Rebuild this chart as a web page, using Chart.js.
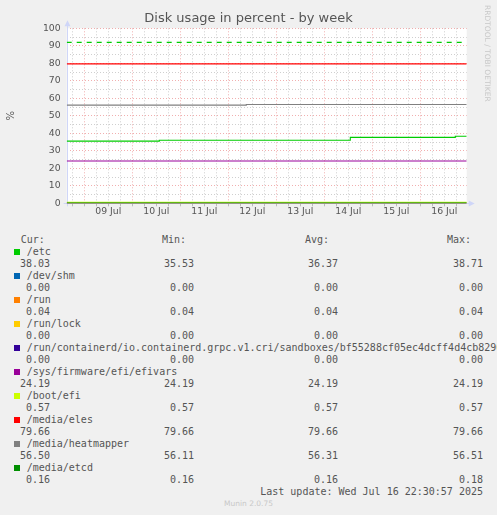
<!DOCTYPE html>
<html>
<head>
<meta charset="utf-8">
<script src="https://cdn.jsdelivr.net/npm/chart.js@4/dist/chart.umd.min.js"></script>
<style>
  html, body { margin:0; padding:0; background:#f0f0f0; }
  body { width:497px; height:515px; position:relative; overflow:hidden; }
  #wrap { position:absolute; left:0; top:0; width:497px; height:230px; }
  .t { position:absolute; font:10px "DejaVu Sans Mono", monospace; color:#555; white-space:pre; line-height:12px; height:12px; }
  .r { text-align:right; }
  .sq { position:absolute; width:6px; height:6px; }
  #rrd { position:absolute; left:483px; top:5px; writing-mode:vertical-rl; font:7.5px "DejaVu Sans", sans-serif; color:#c8c8c8; white-space:nowrap; }
  #munin { position:absolute; left:0; width:497px; top:499px; text-align:center; font:7.5px "DejaVu Sans", sans-serif; color:#c8c8c8; }
</style>
</head>
<body>
<div id="wrap"><canvas id="c" width="497" height="230"></canvas></div>
<div id="legend"></div>
<div id="rrd">RRDTOOL / TOBI OETIKER</div>
<div id="munin">Munin 2.0.75</div>
<script>
// ---- data (x in hours relative to 09 Jul 00:00) ----
const xMin = -8.8;
const xMax = 191.2;
const dayLabels = ['09 Jul','10 Jul','11 Jul','12 Jul','13 Jul','14 Jul','15 Jul','16 Jul'];
const yTickValues = [0,5,10,15,20,25,30,35,40,45,50,55,60,65,70,75,80,85,90,95,100];
const xTickValues = [-6,0,6,12,18,24,30,36,42,48,54,60,66,72,78,84,90,96,102,108,114,120,126,132,138,144,150,156,162,168,174,180,186];

const names = ['/etc','/dev/shm','/run','/run/lock','/run/containerd/io.containerd.grpc.v1.cri/sandboxes/bf55288cf05ec4dcff4d4cb8296','/sys/firmware/efi/efivars','/boot/efi','/media/eles','/media/heatmapper','/media/etcd'];
const colors = ['#00CC00','#0066B3','#FF8000','#FFCC00','#330099','#990099','#CCFF00','#FF0000','#808080','#008F00'];
const curVals = ['38.03','0.00','0.04','0.00','0.00','24.19','0.57','79.66','56.50','0.16'];
const minVals = ['35.53','0.00','0.04','0.00','0.00','24.19','0.57','79.66','56.11','0.16'];
const avgVals = ['36.37','0.00','0.04','0.00','0.00','24.19','0.57','79.66','56.31','0.16'];
const maxVals = ['38.71','0.00','0.04','0.00','0.00','24.19','0.57','79.66','56.51','0.18'];

const etcTimes = [-8.8, 37.5, 133, 185.5, 191.2];
const etcValues = [35.53, 36.03, 37.7, 38.3, 38.3];
const shmTimes = [-8.8, 191.2];   const shmValues = [0, 0];
const runTimes = [-8.8, 191.2];   const runValues = [0.04, 0.04];
const lockTimes = [-8.8, 191.2];  const lockValues = [0, 0];
const ctrTimes = [-8.8, 191.2];   const ctrValues = [0, 0];
const efivTimes = [-8.8, 191.2];  const efivValues = [24.19, 24.19];
const bootTimes = [-8.8, 191.2];  const bootValues = [0.57, 0.57];
const elesTimes = [-8.8, 191.2];  const elesValues = [79.66, 79.66];
const heatTimes = [-8.8, 81, 191.2]; const heatValues = [56.11, 56.5, 56.5];
const etcdTimes = [-8.8, 185, 191.2]; const etcdValues = [0.16, 0.17, 0.17];
const warnTimes = [-8.8, 191.2];  const warnValues = [92, 92];

const seriesTimes = [etcTimes, shmTimes, runTimes, lockTimes, ctrTimes, efivTimes, bootTimes, elesTimes, heatTimes, etcdTimes];
const seriesValues = [etcValues, shmValues, runValues, lockValues, ctrValues, efivValues, bootValues, elesValues, heatValues, etcdValues];

function pts(ts, vs){ return ts.map((t,i)=>({x:t, y:vs[i]})); }

const datasets = names.map((n,i)=>({
  label:n, data:pts(seriesTimes[i], seriesValues[i]),
  borderColor:colors[i], backgroundColor:colors[i], borderWidth:1.1,
  pointRadius:0, stepped:true, fill:false, order:-i
}));
datasets.push({label:'warning', data:pts(warnTimes, warnValues), borderColor:'#00CC00',
  borderWidth:1.2, borderDash:[5,5], pointRadius:0, fill:false, order:-20});

const AXIS = '#CFD6F8';
const frame = {
  id:'frame',
  beforeDraw(chart){
    const {ctx, chartArea:a} = chart;
    ctx.save(); ctx.fillStyle='#ffffff';
    ctx.fillRect(a.left, a.top, a.right-a.left, a.bottom-a.top);
    ctx.restore();
  },
  beforeDatasetsDraw(chart){
    const {ctx, chartArea:a} = chart;
    ctx.save();
    ctx.strokeStyle = AXIS; ctx.fillStyle = AXIS; ctx.lineWidth = 1;
    const xl = Math.round(a.left)+0.5, yb = Math.round(a.bottom)+0.5;
    ctx.beginPath(); ctx.moveTo(xl, a.bottom+3); ctx.lineTo(xl, a.top-3); ctx.stroke();
    ctx.beginPath(); ctx.moveTo(a.left-3, yb); ctx.lineTo(a.right+3, yb); ctx.stroke();
    ctx.beginPath(); ctx.moveTo(xl-3, a.top-2); ctx.lineTo(xl+3, a.top-2); ctx.lineTo(xl, a.top-8); ctx.closePath(); ctx.fill();
    ctx.beginPath(); ctx.moveTo(a.right+2, yb-3); ctx.lineTo(a.right+2, yb+3); ctx.lineTo(a.right+8, yb); ctx.closePath(); ctx.fill();
    ctx.restore();
  }
};

const MAJ = 'rgba(230,110,110,0.55)';
const MIN = 'rgba(160,160,160,0.5)';

new Chart(document.getElementById('c'), {
  type:'line',
  data:{datasets},
  plugins:[frame],
  options:{
    responsive:false, animation:false,
    layout:{padding:{left:0,right:0,top:0,bottom:0}, autoPadding:false},
    plugins:{
      legend:{display:false}, tooltip:{enabled:false},
      title:{display:true, text:'Disk usage in percent - by week', color:'#555',
        font:{family:'DejaVu Sans', size:13, weight:'normal'}, padding:{top:11,bottom:1.7}}
    },
    scales:{
      x:{type:'linear', min:xMin, max:xMax,
        afterBuildTicks:s=>{ s.ticks = xTickValues.map(v=>({value:v})); },
        afterFit:s=>{ s.height = 26.7; },
        grid:{color:c=> (c.tick && c.tick.value % 24 === 0) ? MAJ : MIN, lineWidth:1, drawTicks:true, tickLength:3,
          tickColor:'#bbb'},
        border:{display:false, dash:[1,2]},
        ticks:{autoSkip:false, maxRotation:0, padding:0, color:'#555',
          font:{family:'DejaVu Sans', size:9.3},
          callback:(v)=>{ const m = ((v%24)+24)%24; if (m!==12) return ''; const idx=(v-12)/24; return dayLabels[idx] || ''; }}
      },
      y:{type:'linear', min:0, max:100,
        afterBuildTicks:s=>{ s.ticks = yTickValues.map(v=>({value:v})); },
        afterFit:s=>{ s.width = 66.7; },
        grid:{color:c=> (c.tick && c.tick.value % 10 === 0) ? MAJ : MIN, lineWidth:1, drawTicks:false},
        border:{display:false, dash:[1,2]},
        title:{display:true, text:'%', color:'#555', font:{family:'DejaVu Sans', size:10}, padding:{top:5,bottom:0}},
        ticks:{autoSkip:false, padding:6, color:'#555', font:{family:'DejaVu Sans', size:9.3},
          callback:(v)=> (v%10===0) ? String(v) : ''}
      },
      yRight:{type:'linear', position:'right', min:0, max:100, display:true,
        afterFit:s=>{ s.width = 30.3; },
        grid:{display:false, drawOnChartArea:false, drawTicks:false},
        border:{display:false},
        ticks:{display:false}}
    }
  }
});

// ---- legend table (text) ----
const L = document.getElementById('legend');
function txt(s, left, top, right){
  const d = document.createElement('div'); d.className = 't' + (right ? ' r' : '');
  d.textContent = s;
  if (right) { d.style.left = (left-400)+'px'; d.style.width='400px'; } else { d.style.left = left+'px'; }
  d.style.top = top+'px'; L.appendChild(d);
}
const rowTop = i => 234 + 12*i;
txt('Cur:', 20.7, rowTop(0)); txt('Min:', 162, rowTop(0)); txt('Avg:', 305, rowTop(0)); txt('Max:', 447, rowTop(0));
names.forEach((n,i)=>{
  const r1 = 1+2*i, r2 = 2+2*i;
  const sq = document.createElement('div'); sq.className='sq'; sq.style.background=colors[i];
  sq.style.left='14px'; sq.style.top=(rowTop(r1)+2.5)+'px'; L.appendChild(sq);
  txt(n, 26.7, rowTop(r1));
  txt(curVals[i], 50, rowTop(r2), true);
  txt(minVals[i], 194, rowTop(r2), true);
  txt(avgVals[i], 338, rowTop(r2), true);
  txt(maxVals[i], 483, rowTop(r2), true);
});
txt('Last update: Wed Jul 16 22:30:57 2025', 483, rowTop(21), true);
</script>
</body>
</html>
